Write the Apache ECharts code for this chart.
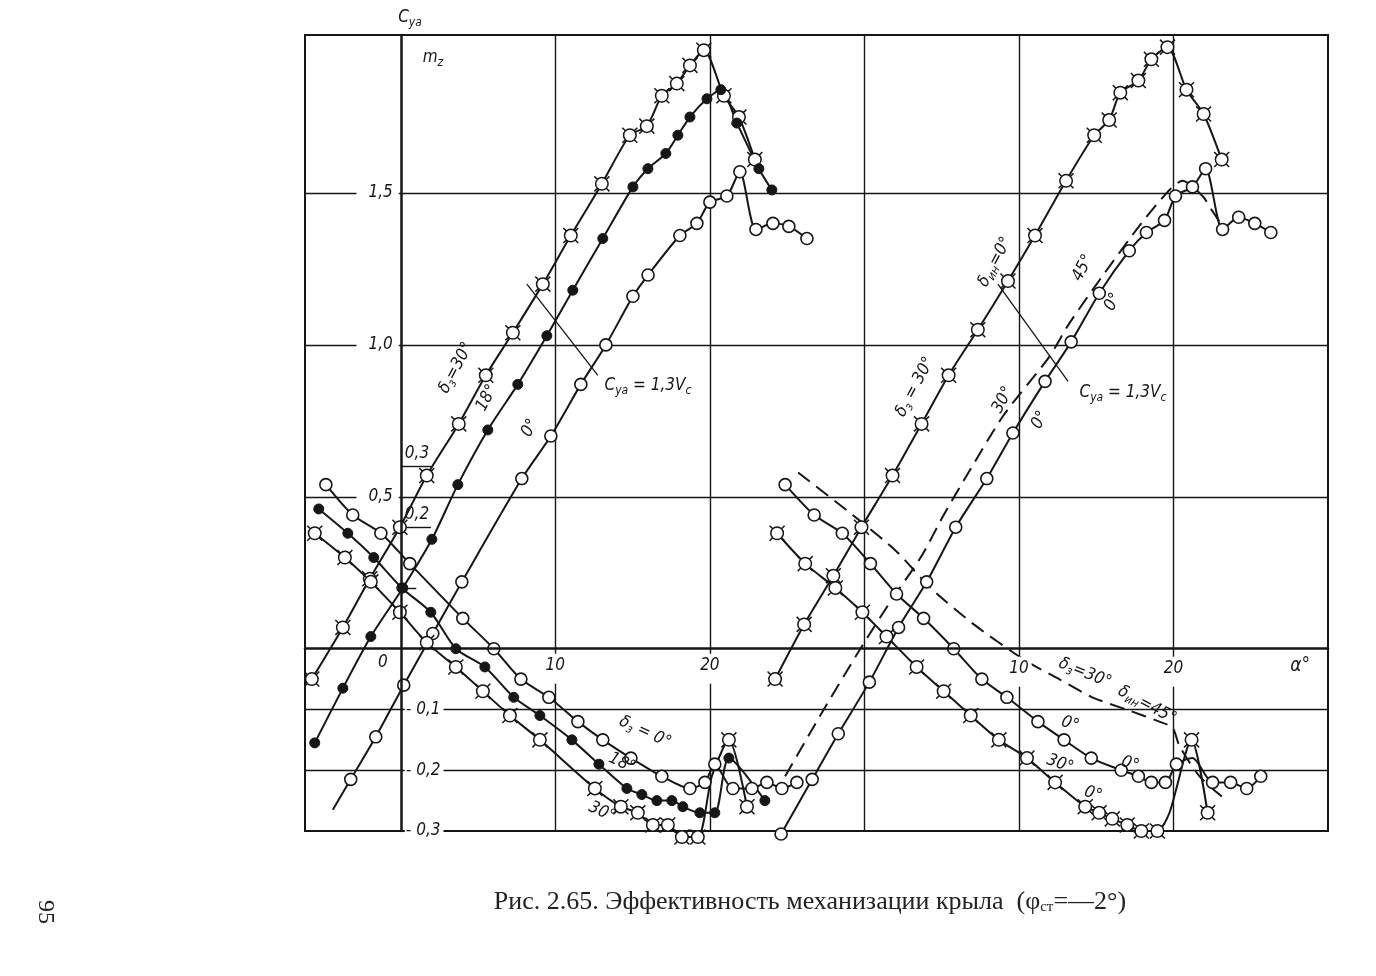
<!DOCTYPE html>
<html>
<head>
<meta charset="utf-8">
<title>Рис. 2.65</title>
<script src="https://cdn.jsdelivr.net/npm/echarts@6.0.0/dist/echarts.min.js"></script>
<style>
  html, body { margin: 0; padding: 0; background: #fff; }
  #chart { width: 1376px; height: 976px; }
</style>
</head>
<body>
<div id="chart"></div>
<script>
// точки: [alpha, значение], третий элемент = точка без маркера
// левое поле, Cya
const cyaLeft30 = [[-5.76,-0.10],[-3.75,0.07],[-2.01,0.23],[-0.06,0.40],[1.68,0.57],[3.75,0.74],[5.50,0.90],[7.25,1.04],[9.19,1.20],[11.0,1.36],[13.01,1.53],[14.82,1.69],[15.92,1.72],[16.89,1.82],[17.86,1.86],[18.71,1.92],[19.61,1.97],[20.91,1.82],[21.88,1.75],[22.91,1.61]];
const cyaLeft18 = [[-5.57,-0.31],[-3.75,-0.13],[-1.94,0.04],[0.13,0.20],[2.01,0.36],[3.69,0.54],[5.63,0.72],[7.57,0.87],[9.45,1.03],[11.13,1.18],[13.07,1.35],[15.02,1.52],[15.99,1.58],[17.15,1.63],[17.93,1.69],[18.71,1.75],[19.81,1.81],[20.71,1.84],[21.75,1.73],[23.17,1.58],[24.01,1.51]];
const cyaLeft0 = [[-4.40,-0.53,1],[-3.24,-0.43],[-1.62,-0.29],[0.19,-0.12],[2.07,0.05],[3.95,0.22],[7.83,0.56],[9.71,0.70],[11.65,0.87],[13.27,1.00],[15.02,1.16],[16.0,1.23],[18.06,1.36],[19.16,1.40],[20.0,1.47],[21.1,1.49],[21.94,1.57],[22.98,1.38],[24.08,1.40],[25.11,1.39],[26.28,1.35]];
// левое поле, mz
const mzLeft0 = [[-4.85,0.27],[-3.11,0.22],[-1.29,0.19],[0.58,0.14],[4.01,0.05],[6.02,0.0],[7.77,-0.05],[9.58,-0.08],[11.46,-0.12],[13.07,-0.15],[14.89,-0.18],[16.89,-0.21],[18.71,-0.23],[19.68,-0.22],[20.32,-0.19],[21.49,-0.23],[22.72,-0.23],[23.69,-0.22],[24.66,-0.23],[25.63,-0.22]];
const mzLeft18 = [[-5.31,0.23],[-3.43,0.19],[-1.75,0.15],[0.06,0.10],[1.94,0.06],[3.56,0.0],[5.44,-0.03],[7.31,-0.08],[9.0,-0.11],[11.07,-0.15],[12.82,-0.19],[14.63,-0.23],[15.6,-0.24],[16.57,-0.25],[17.54,-0.25],[18.25,-0.26],[19.35,-0.27],[20.32,-0.27],[21.23,-0.18],[23.56,-0.25]];
const mzLeft30 = [[-5.57,0.19],[-3.62,0.15],[-1.94,0.11],[-0.06,0.06],[1.68,0.01],[3.56,-0.03],[5.31,-0.07],[7.06,-0.11],[9.0,-0.15],[12.56,-0.23],[14.24,-0.26],[15.34,-0.27],[16.31,-0.29],[17.28,-0.29],[18.19,-0.31],[19.22,-0.31],[20.13,-0.21,1],[21.23,-0.15],[22.4,-0.26]];
// правое поле, Cya
const cyaRight30 = [[-5.78,-0.10],[-3.90,0.08],[-2.01,0.24],[-0.19,0.40],[1.82,0.57],[3.70,0.74],[5.45,0.90],[7.34,1.05],[9.29,1.21],[11.04,1.36],[13.05,1.54],[14.87,1.69],[15.84,1.74],[16.56,1.83],[17.73,1.87],[18.57,1.94],[19.61,1.98],[20.84,1.84],[21.95,1.76],[23.12,1.61]];
const cyaRight30f45 = [[-5.13,-0.42],[-2.86,-0.22],[-0.26,0.0],[1.88,0.17],[3.64,0.30],[5.13,0.44],[6.62,0.57],[9.03,0.77],[11.95,0.96],[13.25,1.07],[15.45,1.23],[17.92,1.40],[19.74,1.51],[20.58,1.54],[21.88,1.49],[22.53,1.44],[23.18,1.39]];
const cyaRight0 = [[-5.39,-0.61],[-3.38,-0.43],[-1.69,-0.28],[0.32,-0.11],[2.21,0.07],[4.03,0.22],[5.91,0.40],[7.92,0.56],[9.61,0.71],[11.69,0.88],[13.38,1.01],[15.2,1.17],[17.14,1.31],[18.25,1.37],[19.42,1.41],[20.13,1.49],[21.23,1.52],[22.08,1.58],[23.18,1.38],[24.22,1.42],[25.26,1.40],[26.3,1.37]];
// правое поле, mz
const mzRight0 = [[-5.13,0.27],[-3.25,0.22],[-1.43,0.19],[0.39,0.14],[2.08,0.09],[3.83,0.05],[5.78,0.0],[7.6,-0.05],[9.22,-0.08],[11.23,-0.12],[12.92,-0.15],[14.68,-0.18],[16.62,-0.20],[17.73,-0.21],[18.57,-0.22],[19.48,-0.22],[20.19,-0.19],[21.23,-0.18,1],[22.53,-0.22],[23.7,-0.22],[24.74,-0.23],[25.65,-0.21]];
const mzRight30 = [[-5.65,0.19],[-3.83,0.14],[-1.88,0.10],[-0.13,0.06],[1.43,0.02],[3.38,-0.03],[5.13,-0.07],[6.88,-0.11],[8.7,-0.15],[10.52,-0.18],[12.34,-0.22],[14.29,-0.26],[15.19,-0.27],[16.04,-0.28],[17.01,-0.29],[17.92,-0.30],[18.96,-0.30],[19.74,-0.27,1],[21.17,-0.15],[22.21,-0.27]];
const mzRight30f45 = [[-4.29,0.29],[-0.26,0.21],[2.08,0.16],[4.29,0.10],[7.08,0.04],[10.45,-0.02],[12.6,-0.05],[14.74,-0.08],[16.95,-0.10],[19.09,-0.12],[19.94,-0.13],[20.39,-0.16],[21.69,-0.21],[23.44,-0.25]];
// отрезки Cya = 1,3Vc
const vcLeft = [[8.16,1.20],[12.75,0.90]];
const vcRight = [[8.64,1.20],[13.18,0.88]];

// подписи осей и сетка
const cyaTickVals = [0.5, 1.0, 1.5];
const cyaTickText = ['0,5', '1,0', '1,5'];
const mzTickVals = [0.3, 0.2, -0.1, -0.2, -0.3];
const mzTickText = ['0,3', '0,2', '- 0,1', '- 0,2', '- 0,3'];
const alphaLeftVals = [0, 10, 20];
const alphaLeftText = ['0', '10', '20'];
const alphaRightVals = [10, 20, 28.2];
const alphaRightText = ['10', '20', 'α°'];
const cyaGrid = [0.5, 1.0, 1.5];
const mzGrid = [-0.1, -0.2];
const alphaLeftGrid = [10, 20, 30];
const alphaRightGrid = [10, 20];
const mzShortTicks = [0.1, 0.2, 0.3];

const INK = '#161616';
const FONT = "'Liberation Sans Narrow', 'DejaVu Sans Condensed', 'Liberation Sans', sans-serif";
const TICKED = 'path://M18.5,12A6.5,6.5,0,1,1,5.5,12A6.5,6.5,0,1,1,18.5,12Z M7.4,7.4L4.2,4.2 M16.6,7.4L19.8,4.2 M7.4,16.6L4.2,19.8 M16.6,16.6L19.8,19.8';

// рамка графика
const G = { left: 305, top: 35, width: 1023, height: 796 };
const X_LEFT = [-6.2, 60], X_RIGHT = [-36.2, 30];
const Y_CYA = [-0.6, 2.02], Y_MZ = [-0.3, 1.01];
// сдвиг осей внутрь рамки: ось alpha = 0 и линия Cya = 0
const yAxisShift = G.width * (0 - X_LEFT[0]) / (X_LEFT[1] - X_LEFT[0]);
const xAxisShift = G.height * (0 - Y_CYA[0]) / (Y_CYA[1] - Y_CYA[0]);

const near = (a, b) => Math.abs(a - b) < 1e-6;
function pick(vals, texts, v) {
  const i = vals.findIndex(t => near(t, v));
  return i < 0 ? '' : texts[i];
}

const openDot = { symbol: 'circle', symbolSize: 12, itemStyle: { color: '#fff', borderColor: INK, borderWidth: 1.6 } };
const fullDot = { symbol: 'circle', symbolSize: 10, itemStyle: { color: INK, borderColor: INK, borderWidth: 1 } };
const tickDot = { symbol: TICKED, symbolSize: 15, symbolKeepAspect: true, itemStyle: { color: '#fff', borderColor: INK, borderWidth: 1.5 } };
const noDot = { showSymbol: false, symbol: 'none' };

function curve(name, pts, xi, yi, marker, extra) {
  return Object.assign({
    name: name, type: 'line', xAxisIndex: xi, yAxisIndex: yi,
    smooth: 0.25, clip: false, z: 3,
    emphasis: { disabled: true },
    data: pts.map(p => p.length > 2 ? { value: [p[0], p[1]], symbol: 'none' } : p),
    lineStyle: { color: INK, width: 2 }
  }, marker, extra || {});
}

function rules(data) {
  return {
    silent: true, symbol: 'none', z: 1, animation: false,
    label: { show: false },
    emphasis: { disabled: true },
    lineStyle: { color: INK, width: 1.4, type: 'solid' },
    data: data
  };
}

const dashed = { lineStyle: { color: INK, width: 2, type: [15, 8] } };

const series = [
  curve('Cya δз=30°', cyaLeft30, 0, 0, tickDot, {
    markLine: rules(alphaLeftGrid.map(a => ({ xAxis: a })).concat(cyaGrid.map(v => ({ yAxis: v }))))
  }),
  curve('Cya δз=18°', cyaLeft18, 0, 0, fullDot),
  curve('Cya δз=0°', cyaLeft0, 0, 0, openDot),
  curve('mz δз=0°', mzLeft0, 0, 1, openDot, {
    markLine: rules(mzGrid.map(v => ({ yAxis: v })).concat(
      mzShortTicks.map(v => [{ coord: [0, v] }, { coord: [near(v, 0.1) ? 1.0 : 1.95, v] }])))
  }),
  curve('mz δз=18°', mzLeft18, 0, 1, fullDot),
  curve('mz δз=30°', mzLeft30, 0, 1, tickDot),
  curve('Cya δз=30° δин=0°', cyaRight30, 1, 0, tickDot, {
    markLine: rules(alphaRightGrid.map(a => ({ xAxis: a })))
  }),
  curve('Cya δз=30° δин=45°', cyaRight30f45, 1, 0, noDot, dashed),
  curve('Cya δз=0° δин=0°', cyaRight0, 1, 0, openDot),
  curve('mz δз=0°', mzRight0, 1, 1, openDot),
  curve('mz δз=30°', mzRight30, 1, 1, tickDot),
  curve('mz δз=30° δин=45°', mzRight30f45, 1, 1, noDot, dashed),
  curve('Cya=1,3Vc', vcLeft, 0, 0, noDot, { smooth: false, lineStyle: { color: INK, width: 1.3 } }),
  curve('Cya=1,3Vc', vcRight, 1, 0, noDot, { smooth: false, lineStyle: { color: INK, width: 1.3 } })
];

const labelBase = { color: INK, fontStyle: 'italic', fontFamily: FONT, fontSize: 17 };

const notes = [
  { t: 'δ{s|з}=30°', x: 456, y: 368, r: 62 },
  { t: '18°', x: 487, y: 398, r: 62 },
  { t: '0°', x: 530, y: 428, r: 62 },
  { t: 'C{s|ya} = 1,3V{s|c}', x: 648, y: 386, r: 0 },
  { t: 'δ{s|з} = 0°', x: 645, y: 732, r: -25 },
  { t: '18°', x: 622, y: 763, r: -25 },
  { t: '30°', x: 602, y: 812, r: -25 },
  { t: 'δ{s|ин}=0°', x: 995, y: 262, r: 62 },
  { t: '45°', x: 1083, y: 268, r: 62 },
  { t: '0°', x: 1113, y: 302, r: 62 },
  { t: 'δ{s|з} = 30°', x: 915, y: 387, r: 62 },
  { t: '30°', x: 1003, y: 400, r: 62 },
  { t: '0°', x: 1040, y: 420, r: 62 },
  { t: 'C{s|ya} = 1,3V{s|c}', x: 1123, y: 393, r: 0 },
  { t: 'δ{s|з}=30°', x: 1085, y: 673, r: -22 },
  { t: 'δ{s|ин}=45°', x: 1147, y: 705, r: -28 },
  { t: '0°', x: 1070, y: 724, r: -20 },
  { t: '0°', x: 1130, y: 764, r: -20 },
  { t: '30°', x: 1060, y: 764, r: -20 },
  { t: '0°', x: 1093, y: 794, r: -20 },
  { t: 'C{s|ya}', x: 410, y: 18, r: 0 },
  { t: 'm{s|z}', x: 433, y: 58, r: 0 }
];

const graphic = notes.map(n => ({
  type: 'text', x: n.x, y: n.y, rotation: n.r * Math.PI / 180, z: 20, silent: true,
  style: {
    text: n.t, fill: INK, fontSize: 17, fontStyle: 'italic', fontFamily: FONT,
    align: 'center', verticalAlign: 'middle',
    rich: { s: { fontSize: 12, fontStyle: 'italic', fontFamily: FONT, fill: INK, padding: [9, 0, 0, 0] } }
  }
}));

graphic.push({
  type: 'text', x: 810, y: 902, z: 20, silent: true,
  style: {
    text: 'Рис. 2.65. Эффективность механизации крыла  (φ{s|ст}=—2°)',
    fill: '#222', fontSize: 26, fontFamily: "'Liberation Serif', 'DejaVu Serif', serif",
    align: 'center', verticalAlign: 'middle',
    rich: { s: { fontSize: 15, fontFamily: "'Liberation Serif', serif", fill: '#222', padding: [10, 0, 0, 0] } }
  }
});
graphic.push({
  type: 'text', x: 45, y: 912, rotation: -Math.PI / 2, z: 20, silent: true,
  style: { text: '95', fill: '#222', fontSize: 24, fontFamily: "'Liberation Serif', serif", align: 'center', verticalAlign: 'middle' }
});

const chart = echarts.init(document.getElementById('chart'), null, { renderer: 'canvas' });
chart.setOption({
  animation: false,
  backgroundColor: '#fff',
  grid: Object.assign({ show: true, borderColor: INK, borderWidth: 2, backgroundColor: 'transparent' }, G),
  xAxis: [
    {
      type: 'value', position: 'bottom', offset: -xAxisShift,
      min: X_LEFT[0], max: X_LEFT[1], interval: 0.2, z: 10,
      axisLine: { onZero: false, lineStyle: { color: INK, width: 2.5 } },
      axisTick: { show: false }, splitLine: { show: false },
      axisLabel: {
        margin: 5,
        formatter: v => {
          const t = pick(alphaLeftVals, alphaLeftText, v);
          if (!t) return '';
          return near(v, 0) ? '{z|' + t + '}' : '{t|' + t + '}';
        },
        rich: {
          z: Object.assign({}, labelBase, { padding: [0, 36, 12, 0] }),
          t: Object.assign({}, labelBase, { backgroundColor: '#fff', padding: [3, 3, 10, 3] })
        }
      }
    },
    {
      type: 'value', position: 'bottom', offset: -xAxisShift,
      min: X_RIGHT[0], max: X_RIGHT[1], interval: 0.2, z: 10,
      axisLine: { show: false, onZero: false },
      axisTick: { show: false }, splitLine: { show: false },
      axisLabel: {
        margin: 8,
        formatter: v => {
          const t = pick(alphaRightVals, alphaRightText, v);
          if (!t) return '';
          return near(v, 28.2) ? '{a|' + t + '}' : '{t|' + t + '}';
        },
        rich: {
          a: Object.assign({}, labelBase, { fontSize: 19 }),
          t: Object.assign({}, labelBase, { backgroundColor: '#fff', padding: [3, 3, 10, 3] })
        }
      }
    }
  ],
  yAxis: [
    {
      type: 'value', position: 'left', offset: -yAxisShift,
      min: Y_CYA[0], max: Y_CYA[1], interval: 0.1, z: 10,
      axisLine: { onZero: false, lineStyle: { color: INK, width: 2.5 } },
      axisTick: { show: false }, splitLine: { show: false },
      axisLabel: {
        margin: 2,
        formatter: v => {
          const t = pick(cyaTickVals, cyaTickText, v);
          return t ? '{c|' + t + '}' : '';
        },
        rich: { c: Object.assign({}, labelBase, { backgroundColor: '#fff', padding: [2, 6, 2, 12] }) }
      }
    },
    {
      type: 'value', position: 'left', offset: -yAxisShift,
      min: Y_MZ[0], max: Y_MZ[1], interval: 0.1, z: 10,
      axisLine: { show: false, onZero: false },
      axisTick: { show: false }, splitLine: { show: false },
      axisLabel: {
        inside: true, margin: 4,
        formatter: v => {
          const t = pick(mzTickVals, mzTickText, v);
          if (!t) return '';
          return v > 0 ? '{p|' + t + '}' : '{n|' + t + '}';
        },
        rich: {
          p: Object.assign({}, labelBase, { padding: [0, 0, 26, 0] }),
          n: Object.assign({}, labelBase, { backgroundColor: '#fff', padding: [1, 3, 1, 1] })
        }
      }
    }
  ],
  graphic: graphic,
  series: series
});
</script>
</body>
</html>
